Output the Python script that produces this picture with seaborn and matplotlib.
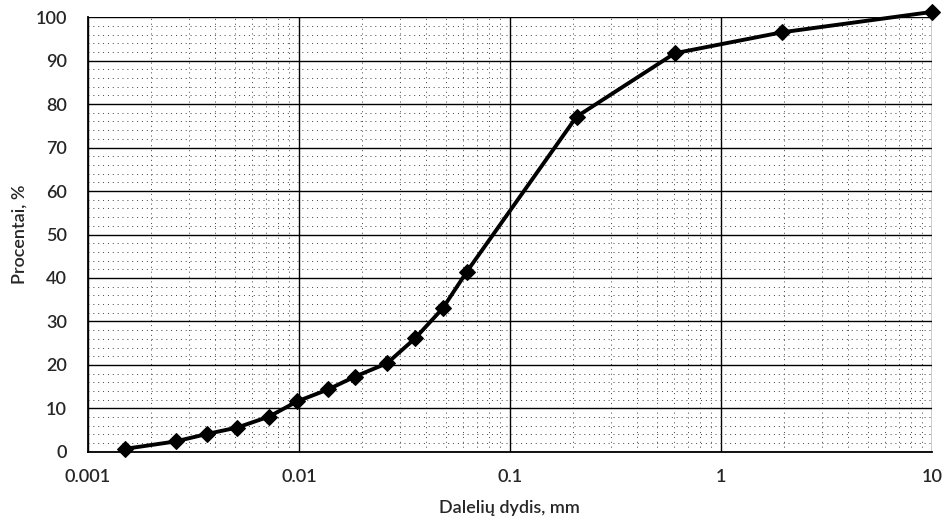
import seaborn as sns
import pandas as pd
import matplotlib.pyplot as plt
from matplotlib.ticker import LogLocator, MultipleLocator, FixedLocator, FixedFormatter

# particle size distribution
dydis = [0.0015, 0.0026, 0.00365, 0.0051, 0.0072, 0.0098, 0.0138, 0.0184,
         0.0262, 0.0355, 0.048, 0.0624, 0.207, 0.605, 1.94, 10.0]
procentai = [0.7, 2.4, 4.1, 5.6, 8.1, 11.6, 14.4, 17.3,
             20.4, 26.1, 33.0, 41.4, 77.1, 91.7, 96.5, 101.2]
x_ticks = [0.001, 0.01, 0.1, 1, 10]
x_tick_labels = ["0.001", "0.01", "0.1", "1", "10"]

df = pd.DataFrame({"dydis": dydis, "procentai": procentai})

sns.set_style("white")
plt.rcParams["font.family"] = ["Lato", "DejaVu Sans"]

fig = plt.figure(figsize=(9.46, 5.2), dpi=100)
ax = fig.add_axes([0.093, 0.131, 0.892, 0.836])

sns.lineplot(data=df, x="dydis", y="procentai", ax=ax, color="black",
             linewidth=2.8, marker="D", markersize=8.5, markeredgecolor="black",
             clip_on=False, zorder=5)

ax.set_xscale("log")
ax.set_xlim(0.001, 10)
ax.set_ylim(0, 100)
ax.xaxis.set_major_locator(FixedLocator(x_ticks))
ax.xaxis.set_major_formatter(FixedFormatter(x_tick_labels))
ax.xaxis.set_minor_locator(LogLocator(base=10, subs=range(2, 10)))
ax.yaxis.set_major_locator(MultipleLocator(10))
ax.yaxis.set_minor_locator(MultipleLocator(2))

ax.grid(which="major", color="black", linewidth=1.0)
ax.grid(which="minor", color="0.25", linewidth=0.7, linestyle=(0, (1, 4)))
ax.tick_params(axis="y", which="both", length=0, labelsize=13, pad=15)
ax.tick_params(axis="x", which="both", length=0, labelsize=13, pad=12)
for lab in ax.get_xticklabels() + ax.get_yticklabels():
    lab.set_fontweight("semibold")

for side in ["top", "right"]:
    ax.spines[side].set_visible(False)
for side in ["left", "bottom"]:
    ax.spines[side].set_color("black")
    ax.spines[side].set_linewidth(1.3)

ax.set_xlabel("Dalelių dydis, mm", fontsize=13, fontweight="semibold", labelpad=11)
ax.set_ylabel("Procentai, %", fontsize=13, fontweight="semibold", labelpad=6)

fig.savefig("out.png", dpi=100)
